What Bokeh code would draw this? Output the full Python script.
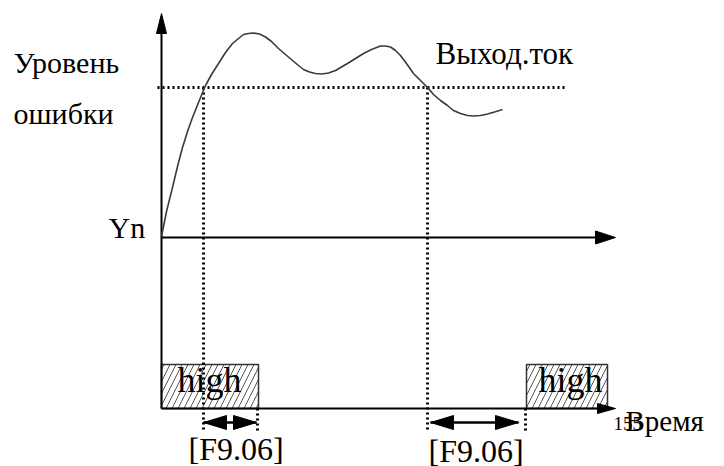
from bokeh.plotting import figure
from bokeh.models import Range1d
from bokeh.core.properties import value
from bokeh.embed import file_html
from bokeh.resources import INLINE

FONT = value("Liberation Serif")

# ---- data (diagram units = reference pixels) ----
curve_x = [161, 166, 172, 177, 182, 187, 192, 198, 205, 211, 218, 225, 232, 238, 243, 248, 253, 259, 265, 271, 278, 285, 292, 298, 303, 309, 315, 321, 328, 335, 341, 347, 355, 363, 371, 380, 385, 390, 395, 400, 406, 413, 420, 427, 433, 440, 447, 453, 460, 467, 473, 480, 487, 494, 502]
curve_y = [236, 211, 187, 166, 147, 131, 117, 102, 85, 74, 63, 52, 43, 38, 34, 33, 32.5, 33.5, 36.5, 41, 48, 54, 60, 65, 69, 71.5, 73, 73.5, 72.5, 70, 66.5, 63, 58, 53, 49, 45.5, 45.5, 46.5, 50, 55, 63, 73, 80, 87, 94, 100, 105, 110, 113, 115, 115.5, 115, 113.5, 111.5, 109]

axis_x0 = [161, 161, 161]
axis_y0 = [408, 237, 408]
axis_x1 = [161, 597, 597]
axis_y1 = [33, 237, 408]

box_left = [161, 526]
box_right = [258, 607]
box_top = [364, 364]
box_bottom = [408, 408]
box_label = ["high", "high"]
box_label_x = [209, 570]
box_label_y = [379, 379]

dot_x0 = [157, 203, 427, 257, 525]
dot_y0 = [87, 87, 87, 408, 408]
dot_x1 = [567, 203, 427, 257, 525]
dot_y1 = [87, 430, 430, 431, 433]

# double arrows (start, end, y)
darrow_x0 = [203, 430]
darrow_x1 = [256, 518]
darrow_y = [422, 422]

labels = ["Уровень", "ошибки", "Yn", "Выход.ток", "[F9.06]", "[F9.06]", "Время"]
label_x = [13, 13, 108, 435, 188, 428, 625]
label_y = [62, 113, 227, 53, 448, 450, 420]
label_size = ["30px", "30px", "30px", "31px", "32px", "32px", "29px"]

page_no = ["155"]
page_no_x = [613]
page_no_y = [423]

# axis arrowheads: tip x, tip y, direction dx, dy, length, half width
head_tip_x = [161, 615, 615]
head_tip_y = [13, 237, 408]
head_dx = [0, 1, 1]
head_dy = [-1, 0, 0]
head_len = [20, 20, 18]
head_half = [5, 6.5, 5]


def triangle(tx, ty, dx, dy, length, half):
    bx, by = tx - dx * length, ty - dy * length
    px, py = -dy, dx
    return ([tx, bx + px * half, bx - px * half],
            [ty, by + py * half, by - py * half])


p = figure(width=724, height=466, output_backend="svg", toolbar_location=None,
           x_range=Range1d(0, 724), y_range=Range1d(466, 0),
           min_border=0, outline_line_color=None)
p.axis.visible = False
p.grid.visible = False
p.background_fill_color = "white"

# hatched boxes
p.quad(left=box_left, right=box_right, top=box_top, bottom=box_bottom,
       fill_color=None, line_color="#333333", line_width=1.5,
       hatch_pattern="/", hatch_color="#555555", hatch_scale=12, hatch_weight=1)

# dotted guides
p.segment(x0=dot_x0, y0=dot_y0, x1=dot_x1, y1=dot_y1, line_color="black",
          line_width=3, line_dash="2 3")

# axes
p.segment(x0=axis_x0, y0=axis_y0, x1=axis_x1, y1=axis_y1, line_color="black", line_width=2)
xs, ys = [], []
for i in range(len(head_tip_x)):
    a, b = triangle(head_tip_x[i], head_tip_y[i], head_dx[i], head_dy[i], head_len[i], head_half[i])
    xs.append(a); ys.append(b)
p.patches(xs, ys, fill_color="black", line_color="black", line_width=1)

# double arrows
p.segment(x0=darrow_x0, y0=darrow_y, x1=darrow_x1, y1=darrow_y, line_color="black", line_width=2.5)
dxs, dys = [], []
for i in range(len(darrow_x0)):
    a, b = triangle(darrow_x0[i], darrow_y[i], -1, 0, 23, 7)
    dxs.append(a); dys.append(b)
    a, b = triangle(darrow_x1[i], darrow_y[i], 1, 0, 23, 7)
    dxs.append(a); dys.append(b)
p.patches(dxs, dys, fill_color="black", line_color="black", line_width=1)

# curve
p.line(curve_x, curve_y, line_color="#3a3a3a", line_width=1.6)

# texts
p.text(x=box_label_x, y=box_label_y, text=box_label, text_font=FONT, text_font_size="36px",
       text_align="center", text_baseline="alphabetic", text_color="black")
p.text(x=page_no_x, y=page_no_y, text=page_no, text_font=FONT, text_font_size="19px",
       text_align="left", text_baseline="alphabetic", text_color="black")
for i in range(len(labels)):
    p.text(x=[label_x[i]], y=[label_y[i]], text=[labels[i]], text_font=FONT,
           text_font_size=label_size[i], text_align="left",
           text_baseline="alphabetic", text_color="black")

open("out.html", "w").write(file_html(p, INLINE))
